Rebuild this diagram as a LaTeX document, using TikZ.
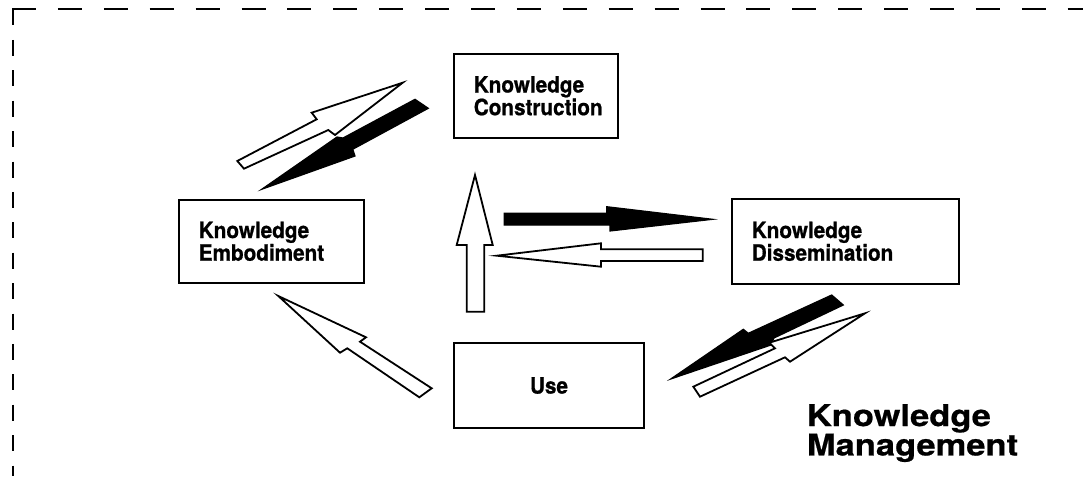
\documentclass[tikz,border=0pt]{standalone}
\usepackage{fontspec}
\setmainfont{TeX Gyre Heros}
\newfontfamily\boxfont{TeX Gyre Heros}[FakeStretch=0.92, BoldFeatures={FakeBold=0.8}]
\newfontfamily\kmfont{TeX Gyre Heros}[FakeStretch=1.15, BoldFeatures={FakeBold=0.6}]
\begin{document}
\begin{tikzpicture}[x=1pt,y=-1pt,
  box/.style={draw, line width=1.6pt, inner xsep=20pt, inner ysep=0pt, align=left,
    anchor=north west, font=\boxfont\fontsize{22.5}{20}\selectfont\bfseries},
  warrow/.style={draw, fill=white, line width=1.8pt, line join=miter},
  barrow/.style={draw, fill=black, line width=1.2pt, line join=miter},
  frame/.style={line width=2pt}]
\useasboundingbox (0,0) rectangle (1083,476);
% dashed frame (top and left)
\draw[frame, dash pattern=on 24pt off 21.9pt] (12,9.5) -- (1083,9.5);
\draw[frame, dash pattern=on 16pt off 14.4pt] (12.7,9.5) -- (12.7,476);
% boxes
\node[box, text width=124pt, minimum height=84pt] (kc) at (453,53) {Knowledge\\Construction};
\node[box, text width=145pt, minimum height=83pt] (ke) at (178,199) {Knowledge\\Embodiment};
\node[box, text width=187pt, minimum height=85pt] (kd) at (731,198) {Knowledge\\Dissemination};
\node[draw, line width=1.6pt, minimum width=190pt, minimum height=85pt, inner sep=0pt,
  font=\boxfont\fontsize{22.5}{20}\selectfont\bfseries] (use) at (549,385.5) {Use};
\node[anchor=north west, inner sep=0pt, align=left,
  font=\kmfont\fontsize{30}{28}\selectfont\bfseries] (km) at (806.7,404) {Knowledge\\Management};
% arrows: construction <-> embodiment
\draw[barrow] (415,99.3) -- (343,138) -- (337,137) -- (261.7,189.3) -- (355,156) -- (352.7,149.3) -- (428.3,108.3) -- cycle;
\draw[warrow] (402.7,82.7) -- (311.7,112.7) -- (316.7,119.3) -- (237.3,161) -- (244,168.7) -- (328.3,130) -- (335,135) -- cycle;
% use -> construction
\draw[warrow] (475,175) -- (492.7,245) -- (484.3,245) -- (484.3,311.7) -- (466.7,311.7) -- (466.7,245) -- (456.7,245) -- cycle;
% to dissemination
\draw[barrow] (504.3,213.3) -- (606.7,213.3) -- (606.7,206.7) -- (712.7,219.3) -- (610,231) -- (610,225) -- (504.3,225) -- cycle;
% from dissemination
\draw[warrow] (702.7,249.3) -- (601,249.3) -- (601,243.3) -- (496.7,255.7) -- (601,266.7) -- (601,261) -- (702.7,261) -- cycle;
% dissemination <-> use
\draw[barrow] (831.7,295) -- (748.3,333.3) -- (743.3,329.3) -- (670.7,379) -- (771,345) -- (774,338) -- (843.3,305) -- cycle;
\draw[warrow] (693.3,386.7) -- (775,348.3) -- (769.3,342.7) -- (865,313.3) -- (790,361.7) -- (785,357.3) -- (700,396.7) -- cycle;
% use -> embodiment
\draw[warrow] (278.3,296) -- (366,337.3) -- (360,341.7) -- (431.7,388.3) -- (419.3,397.3) -- (347.3,348.3) -- (340,352.7) -- cycle;
\end{tikzpicture}
\end{document}
